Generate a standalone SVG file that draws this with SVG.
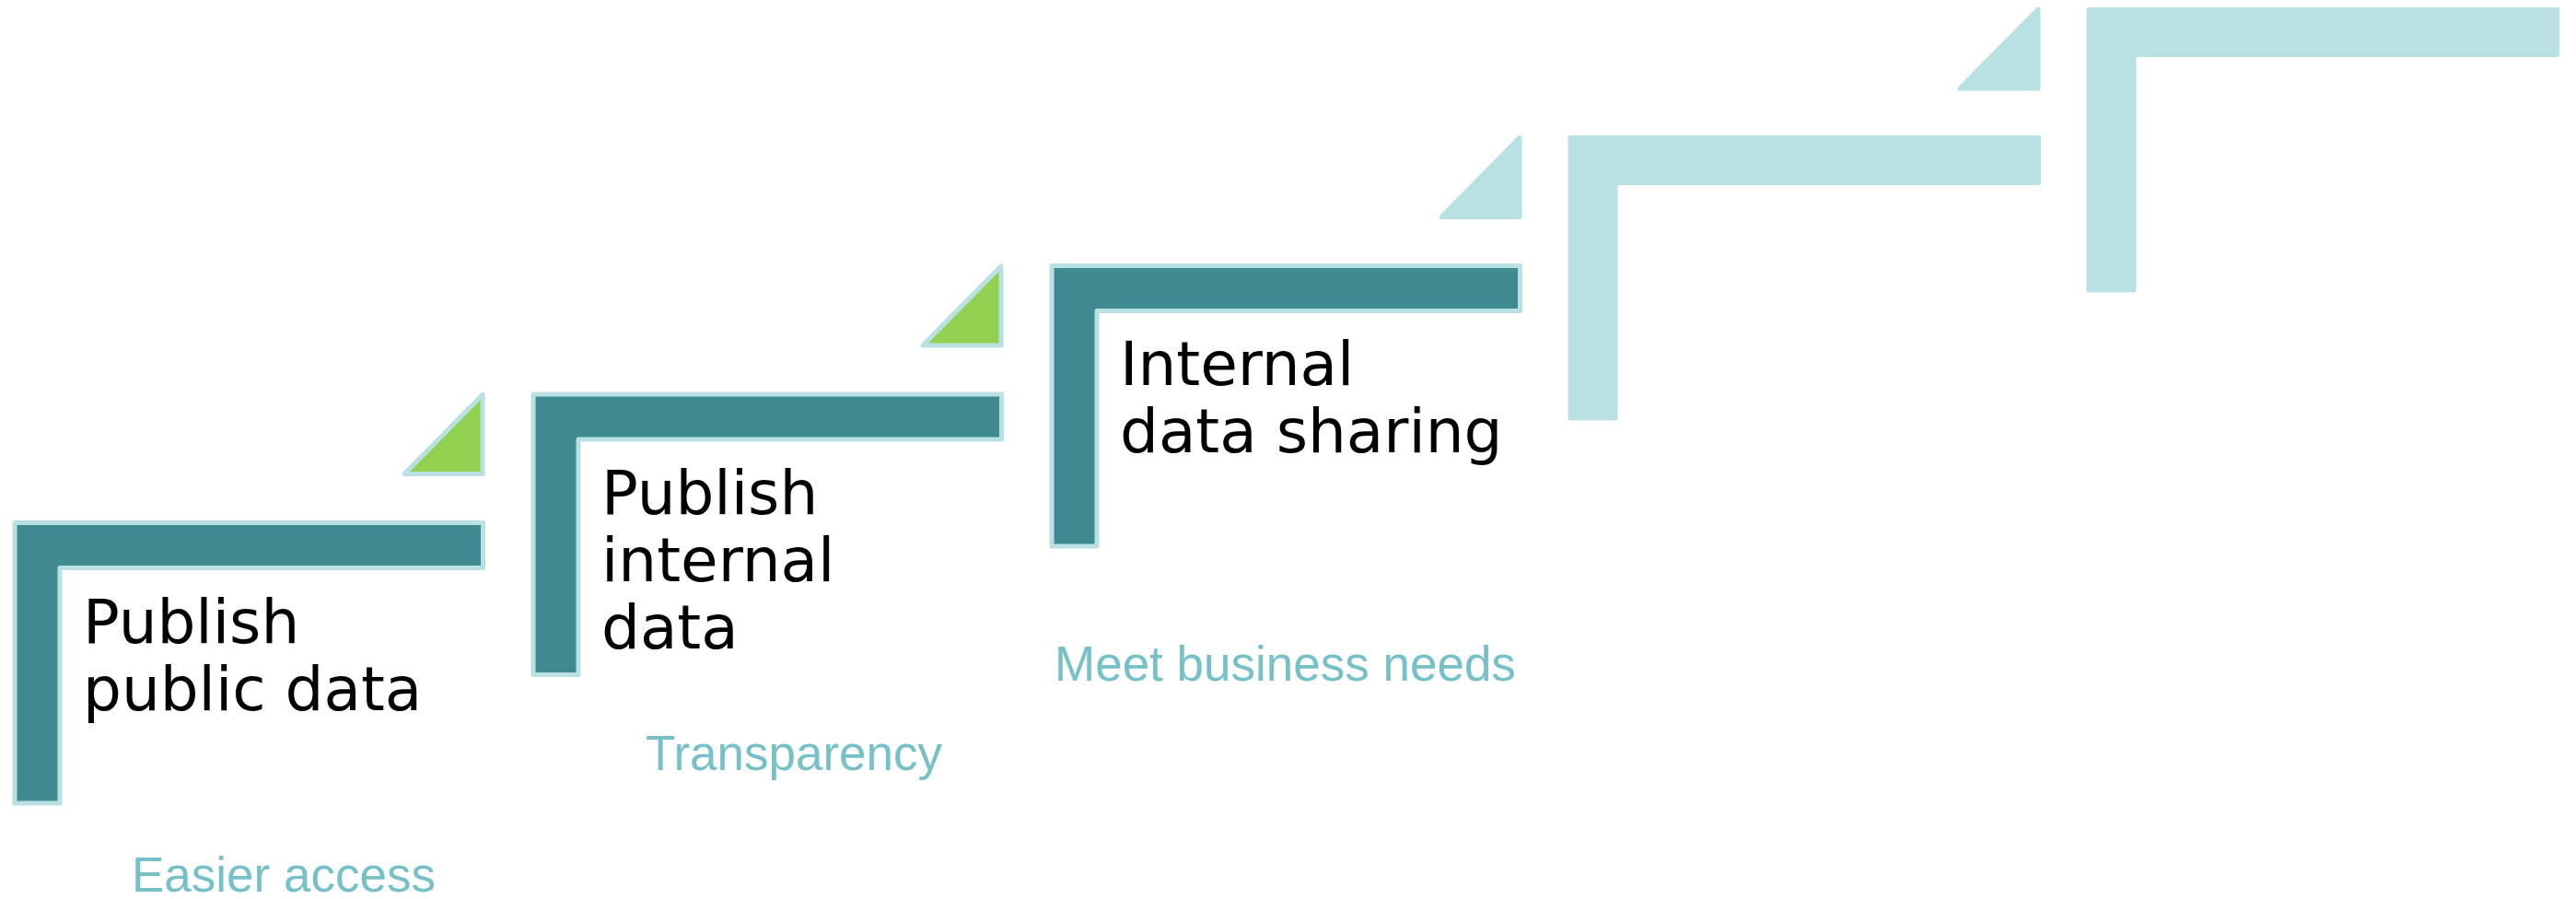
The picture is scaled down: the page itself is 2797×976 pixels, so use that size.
<svg xmlns="http://www.w3.org/2000/svg" width="2797" height="976" viewBox="0 0 2797 976">
<style>
.bg{fill:#ffffff}
.dark{fill:#3E8A90;stroke:#B9E0E3;stroke-width:5;stroke-linejoin:round}
.green{fill:#92D050;stroke:#B9E0E3;stroke-width:5;stroke-linejoin:round}
.light{fill:#B9E0E3;stroke:#B9E0E3;stroke-width:5;stroke-linejoin:round}
.lbl{font-family:"DejaVu Sans",Verdana,sans-serif;font-size:66px;fill:#000000}
.sub{font-family:"Liberation Sans",Arial,sans-serif;font-size:53px;fill:#76C0C7}
</style>
<defs>
<path id="stepShape" d="M16,567.5 H524.5 V616.5 H65 V872 H16 Z"/>
<path id="triShape" d="M524,428.5 V514.5 H439 Z"/>
</defs>
<rect class="bg" x="0" y="0" width="2797" height="976"/>
<g id="step1">
<use href="#stepShape" class="dark"/>
<text class="lbl" x="90" y="698">Publish</text>
<text class="lbl" x="90" y="771">public data</text>
</g>
<g id="arrow1">
<use href="#triShape" class="green"/>
</g>
<g id="step2" transform="translate(563,-139.5)">
<use href="#stepShape" class="dark"/>
<text class="lbl" x="90" y="697">Publish</text>
<text class="lbl" x="90" y="770">internal</text>
<text class="lbl" x="90" y="843">data</text>
</g>
<g id="arrow2" transform="translate(563,-139.5)">
<use href="#triShape" class="green"/>
</g>
<g id="step3" transform="translate(1126,-279)">
<use href="#stepShape" class="dark"/>
<text class="lbl" x="90" y="697">Internal</text>
<text class="lbl" x="90" y="770">data sharing</text>
</g>
<g id="arrow3" transform="translate(1126,-279)">
<use href="#triShape" class="light"/>
</g>
<g id="step4" transform="translate(1689,-418)">
<use href="#stepShape" class="light"/>
</g>
<g id="arrow4" transform="translate(1689,-418.5)">
<use href="#triShape" class="light"/>
</g>
<g id="step5" transform="translate(2252,-557)">
<use href="#stepShape" class="light"/>
</g>
<g id="subtitles">
<text class="sub" x="143" y="968">Easier access</text>
<text class="sub" x="701" y="836">Transparency</text>
<text class="sub" x="1145" y="739">Meet business needs</text>
</g>
<g id="connectors"></g>
</svg>
